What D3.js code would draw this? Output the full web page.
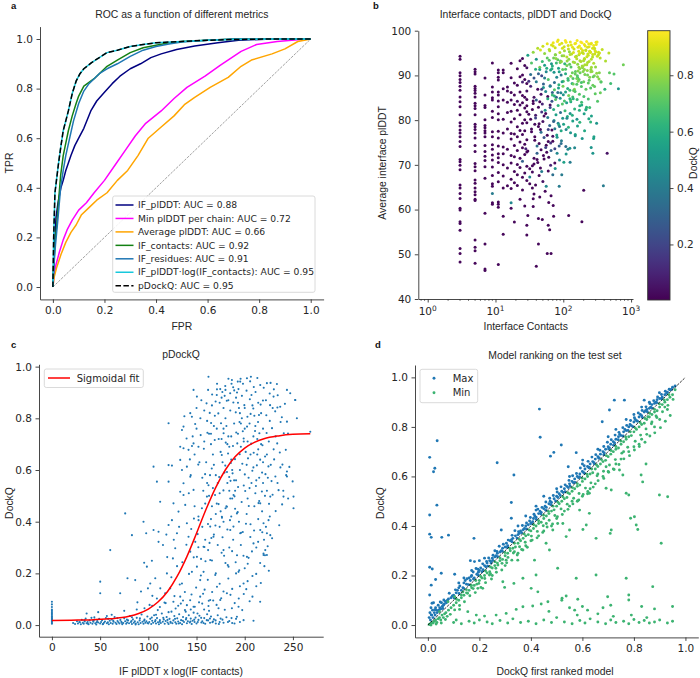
<!DOCTYPE html>
<html><head><meta charset="utf-8">
<script src="https://cdn.jsdelivr.net/npm/d3@7"></script>
<style>body{margin:0;background:#fff}svg{display:block}</style>
</head><body>
<svg id="chart" width="700" height="678"></svg>
<script>
// ---------------- Panel a: ROC curves ----------------
const ifPlddtFpr = [0,0.005,0.012,0.02,0.031,0.04,0.05,0.06,0.07,0.085,0.1,0.12,0.147,0.17,0.2,0.23,0.26,0.3,0.34,0.38,0.42,0.48,0.55,0.64,0.72,0.85,1];
const ifPlddtTpr = [0,0.15,0.28,0.34,0.40,0.43,0.47,0.5,0.53,0.57,0.6,0.64,0.71,0.75,0.785,0.82,0.85,0.88,0.9,0.925,0.94,0.958,0.972,0.985,0.995,1,1];
const minPlddtFpr = [0,0.005,0.012,0.025,0.04,0.055,0.075,0.1,0.13,0.16,0.2,0.24,0.28,0.32,0.36,0.42,0.47,0.52,0.59,0.65,0.73,0.79,0.87,0.95,1];
const minPlddtTpr = [0,0.05,0.09,0.14,0.19,0.23,0.27,0.31,0.34,0.38,0.43,0.49,0.55,0.61,0.66,0.71,0.76,0.805,0.85,0.895,0.95,0.978,0.99,0.997,1];
const avgPlddtFpr = [0,0.005,0.015,0.031,0.05,0.07,0.09,0.11,0.14,0.17,0.21,0.25,0.29,0.33,0.37,0.42,0.47,0.51,0.55,0.61,0.68,0.73,0.77,0.85,0.9,0.95,1];
const avgPlddtTpr = [0,0.04,0.08,0.13,0.18,0.22,0.25,0.29,0.32,0.35,0.38,0.43,0.47,0.53,0.6,0.645,0.69,0.735,0.765,0.805,0.845,0.89,0.915,0.94,0.96,0.99,1];
const ifContactsFpr = [0,0.005,0.01,0.015,0.02,0.03,0.04,0.05,0.06,0.075,0.09,0.1,0.12,0.14,0.16,0.19,0.21,0.25,0.3,0.35,0.4,0.45,0.5,0.6,0.7,1];
const ifContactsTpr = [0,0.12,0.2,0.25,0.32,0.45,0.53,0.58,0.63,0.69,0.74,0.77,0.81,0.825,0.84,0.87,0.89,0.915,0.945,0.965,0.975,0.985,0.99,0.995,1,1];
const ifResiduesFpr = [0,0.005,0.01,0.02,0.03,0.04,0.05,0.065,0.08,0.1,0.12,0.14,0.16,0.18,0.21,0.25,0.3,0.35,0.4,0.45,0.5,0.6,0.7,1];
const ifResiduesTpr = [0,0.1,0.17,0.28,0.4,0.47,0.53,0.6,0.67,0.74,0.79,0.82,0.84,0.86,0.88,0.9,0.93,0.955,0.97,0.98,0.988,0.995,1,1];
const ifPlddtLogFpr = [0,0.003,0.008,0.015,0.022,0.03,0.04,0.05,0.06,0.075,0.09,0.105,0.12,0.15,0.18,0.21,0.25,0.3,0.35,0.4,0.5,0.6,0.7,0.85,1];
const ifPlddtLogTpr = [0,0.2,0.38,0.44,0.5,0.56,0.63,0.67,0.71,0.78,0.83,0.86,0.88,0.905,0.925,0.945,0.955,0.97,0.978,0.985,0.99,0.995,0.998,1,1];
const pDockqFpr = [0,0.003,0.008,0.015,0.022,0.03,0.04,0.05,0.06,0.075,0.09,0.105,0.12,0.15,0.18,0.21,0.25,0.3,0.35,0.4,0.5,0.6,0.7,0.85,1];
const pDockqTpr = [0,0.2,0.38,0.44,0.5,0.56,0.63,0.67,0.71,0.78,0.83,0.86,0.88,0.905,0.925,0.945,0.955,0.97,0.978,0.985,0.99,0.995,0.998,1,1];
const rocLabels = ["IF_plDDT: AUC = 0.88","Min plDDT per chain: AUC = 0.72","Average plDDT: AUC = 0.66","IF_contacts: AUC = 0.92","IF_residues: AUC = 0.91","IF_plDDT\u00b7log(IF_contacts): AUC = 0.95","pDockQ: AUC = 0.95"];
const unitTicks = [0,0.2,0.4,0.6,0.8,1.0];

// ---------------- Panel b: contacts vs plDDT coloured by DockQ ----------------
const bCol3 = [94.3,93.6,90.6,89.9,89.1,88.4,87.6,86.7,85.2,84.1,83,81.2,79.4,78.7,77.8,77.1,76.3,75.2,74.1,71.2,70.7,69.9,68.9,65.5,64.8,63.6,62.5,60.3,59.9,57.3,56.9,55.4,51.3,50.2,48.3];
const bCol5 = [91.4,90.8,90.3,87.6,87.1,86.6,86,85.2,83.8,83.2,82.6,81.2,79.1,78.5,77.9,77.1,76,74.3,73,70.3,69.6,68.7,66.6,65.9,64.8,64,63.3,62.3,62,53.2,51.6,50.8,48];
const bCol7 = [89.4,85.6,83.3,82.8,80.1,78.8,78.3,77.6,77.1,76.3,74.3,73,71.9,71,69.6,67,59.2,52.3,46.7,46.4];
const bCol9 = [92.8,87.4,86.3,85,84.5,82,80.6,77.4,76.3,74.5,73.5,72.2,71.1,69.5,67.6,65.8,65.2,61.5,61.2];
const bCol11 = [91.2,90.6,89.6,89,86.3,85.6,84.3,83,81.4,80.1,77.5,76,74.2,72.5,71.6,70.5,68.3,66.2,61.7,61.2,60.5,47.7];
const bStripeContacts = [3,5,7,9,11];
const bStripeDockq = 0.02;
const bLow = [[13,91.2,0.02],[13,90.6,0.02],[13,87,0.02],[13,84.5,0.02],[13,80.2,0.02],[13,77.1,0.02],[13,74,0.02],[13,72.5,0.02],[13,70,0.02],[13,67.5,0.02],[13,64.8,0.02],[13,58.5,0.02],[13,54.5,0.02],
[15,87.4,0.02],[15,86.5,0.02],[15,84,0.02],[15,81.7,0.02],[15,78,0.02],[15,73.5,0.02],[15,69.3,0.02],[15,65.3,0.02],[9,63.6,0.4],
[17,92.7,0.02],[17,89.5,0.02],[17,86.2,0.02],[17,84.5,0.02],[17,82,0.02],[17,79.6,0.02],[17,77,0.02],[17,75.8,0.02],[17,72.1,0.02],[17,70.4,0.02],[17,66.8,0.02],[17,64.7,0.02],[17,61.5,0.45],[17,60.3,0.02],
[19,88.3,0.02],[19,85.6,0.02],[19,83.5,0.02],[19,80.3,0.02],[19,76.9,0.02],[19,74.3,0.02],[19,71.8,0.02],[19,68.5,0.02],[19,66,0.02],[19,57.2,0.02],
[21,91.5,0.02],[21,87.8,0.02],[21,84.2,0.05],[21,82.2,0.02],[21,78.5,0.02],[21,76.3,0.02],[21,73.2,0.02],[21,70.1,0.02],[21,67.8,0.02],[21,65.4,0.02],
[23,93.3,0.02],[23,89.7,0.02],[23,86.3,0.02],[23,83.4,0.02],[23,81.2,0.02],[23,77.7,0.02],[23,75.1,0.02],[23,71.5,0.02],[23,69.4,0.02],[23,62.3,0.02],
[25,93.8,0.02],[25,90.1,0.02],[25,88.5,0.1],[25,85.5,0.02],[25,83.9,0.02],[25,79.3,0.02],[25,76.8,0.02],[25,73.8,0.02],[25,70.8,0.3],[25,67.2,0.02],[25,64.4,0.02],
[27,92.2,0.02],[27,89.1,0.02],[27,85.1,0.02],[27,82.7,0.02],[27,80.1,0.02],[27,77.6,0.02],[27,74.6,0.02],[27,72.3,0.02],[27,68.2,0.02],[27,60.8,0.02],
[29,91.7,0.05],[29,88.2,0.02],[29,84.6,0.02],[29,81.9,0.02],[29,79.4,0.02],[29,75.6,0.02],[29,72.9,0.02],[29,69.7,0.02],[29,66.5,0.02],[29,56.5,0.02],[29,54.3,0.02]];
const bMid = [[30,94.5,0.55],[33,90.2,0.35],[29,86.5,0.05],[36,84.3,0.02],[31,81.3,0.03],[34,78,0.02],[28,73.6,0.1],[37,70.2,0.02],[32,67.3,0.45],[35,64.8,0.02],[30,58.7,0.02],
[34,92.8,0.7],[31,88.7,0.15],[37,85.1,0.05],[29,83.2,0.02],[33,80.2,0.02],[38,76.3,0.02],[30,73.1,0.02],[35,68.4,0.03],[32,65.8,0.02],[36,62.4,0.02],
[36,95.2,0.8],[39,91.4,0.6],[33,87.6,0.1],[40,84.5,0.3],[35,82.4,0.02],[38,79.1,0.03],[34,77.4,0.02],[41,74.2,0.35],[37,71.5,0.02],[32,69.1,0.02],[39,65.5,0.02],[36,60.7,0.02],
[40,93.6,0.5],[37,89.4,0.25],[42,86.9,0.02],[36,83.7,0.02],[39,81.1,0.08],[43,78.6,0.02],[38,75.5,0.02],[41,72.6,0.3],[35,69.8,0.02],[44,67.6,0.02],[37,63.5,0.02],
[42,96.1,0.85],[45,91.8,0.75],[40,88.6,0.4],[47,85.8,0.05],[43,82.9,0.02],[39,80.5,0.2],[46,77.9,0.03],[44,74.8,0.02],[41,71.2,0.02],[48,68.5,0.4],[43,58,0.02],[40,47.3,0.02],
[46,95.7,0.9],[49,93.1,0.65],[43,90.4,0.3],[51,87.3,0.5],[45,84.1,0.02],[48,81.8,0.15],[44,79.2,0.02],[52,76.1,0.25],[47,73.4,0.02],[42,70.5,0.02],[50,66.3,0.05],[45,62.8,0.02],[43,52.3,0.02],
[50,96.5,0.88],[53,92.3,0.55],[48,89.9,0.2],[55,86.4,0.45],[49,83.6,0.1],[52,80.9,0.02],[47,77.3,0.35],[56,74.4,0.02],[51,72.1,0.02],[46,69.3,0.02],[54,64.1,0.02],
[53,94.9,0.8],[57,91.6,0.6],[51,88.1,0.3],[59,85.3,0.02],[54,82.2,0.5],[50,79.7,0.05],[58,76.6,0.02],[55,73.9,0.2],[52,71.3,0.02],[60,68.6,0.02],[56,65.2,0.45],[49,57.8,0.02],
[58,97.1,0.92],[62,93.4,0.7],[56,90.8,0.45],[64,87.7,0.25],[59,84.8,0.6],[55,81.5,0.02],[63,78.8,0.3],[60,75.2,0.02],[57,72.8,0.02],[65,69.9,0.1],[61,61.6,0.02],
[62,95.8,0.85],[67,92.6,0.5],[60,89.1,0.7],[69,86.2,0.3],[64,83.4,0.05],[59,80.6,0.4],[68,77.8,0.02],[65,74.9,0.15],[61,71.7,0.02],[70,67.8,0.35],[66,63.1,0.02],[58,50.2,0.02],
[67,96.8,0.9],[72,93.9,0.75],[65,91.2,0.55],[74,88.4,0.35],[69,85.6,0.65],[64,82.8,0.2],[73,79.9,0.5],[70,76.4,0.05],[66,73.2,0.3],[75,70.4,0.02],[63,55.5,0.02],[71,60.9,0.02],
[71,97.3,0.93],[77,94.6,0.8],[69,92.1,0.6],[80,89.6,0.45],[74,86.8,0.7],[68,84.2,0.25],[78,81.2,0.55],[75,78.1,0.4],[70,75.3,0.02],[81,72.6,0.45],[76,69.2,0.5],[60,56.5,0.02],
[76,96.2,0.88],[83,93.5,0.72],[73,90.7,0.5],[86,87.9,0.62],[79,85.1,0.3],[72,82.4,0.6],[84,79.3,0.45],[80,76.7,0.55],[75,73.6,0.2],[87,65.2,0.4],[66,50.2,0.02],
[82,97.6,0.95],[89,95.1,0.85],[79,92.8,0.65],[93,90.1,0.4],[85,87.2,0.55],[77,84.6,0.7],[91,81.7,0.35],[86,78.9,0.6],[81,76.2,0.5],[88,71.1,0.45],[72,58.5,0.02],
[88,96.9,0.92],[96,94.4,0.78],[85,91.6,0.55],[100,88.7,0.7],[92,86.1,0.45],[84,83.3,0.62],[98,80.4,0.5],[93,77.6,0.58],[87,74.2,0.3],[95,67.8,0.4],
[95,97.2,0.9],[104,95.5,0.82],[91,93.2,0.7],[108,90.4,0.6],[99,87.6,0.75],[90,84.9,0.5],[106,82.1,0.65],[101,79.1,0.55],[94,75.4,0.4],[110,72.4,0.5],
[103,96.4,0.88],[113,94.1,0.85],[98,91.3,0.72],[118,88.9,0.65],[108,86.3,0.55],[97,83.6,0.7],[115,80.8,0.6],[110,77.9,0.45],[102,70.6,0.55],[120,58.7,0.02]];
const bHigh = [[110,97.4,0.94],[123,95.3,0.8],[105,92.6,0.62],[129,89.8,0.78],[116,87.1,0.6],[104,84.3,0.68],[126,81.5,0.5],[119,78.4,0.62],[109,74.1,0.35],
[118,96.7,0.9],[133,94.8,0.85],[113,92.2,0.75],[139,89.3,0.7],[125,86.7,0.65],[112,83.9,0.55],[136,81.1,0.6],[128,77.2,0.5],[117,73.5,0.45],
[127,97.5,0.93],[144,95.9,0.88],[121,93.6,0.8],[151,90.9,0.72],[135,88.2,0.6],[120,85.5,0.75],[147,82.5,0.62],[138,79.8,0.55],[126,70.6,0.4],
[137,96.3,0.92],[156,94.3,0.84],[130,91.9,0.7],[163,89.5,0.66],[146,86.9,0.78],[129,84.1,0.6],[159,80.2,0.5],[150,76.8,0.58],
[148,97.1,0.95],[169,95.4,0.9],[140,93,0.82],[177,90.6,0.74],[158,88,0.7],[138,85.2,0.66],[173,82.2,0.6],[162,78.7,0.55],[147,73.8,0.45],
[160,97.8,0.94],[183,96,0.92],[151,94.2,0.86],[192,91.7,0.78],[171,89.1,0.72],[149,86.4,0.68],[187,83.4,0.6],[175,79.5,0.62],
[173,96.6,0.93],[198,94.9,0.88],[163,92.5,0.8],[208,90.2,0.76],[185,87.5,0.7],[160,84.6,0.65],[203,81.4,0.55],[190,75.9,0.5],
[188,97.3,0.96],[215,95.6,0.9],[176,93.3,0.84],[226,91.1,0.8],[200,88.6,0.74],[173,85.8,0.7],[220,82.9,0.62],[206,77.6,0.58],
[204,96.9,0.93],[233,94.5,0.88],[190,92.1,0.82],[245,89.6,0.78],[216,86.9,0.72],[186,84,0.66],[238,80.3,0.58],
[221,97.6,0.95],[252,95.2,0.9],[205,93.8,0.86],[265,90.9,0.8],[234,88.3,0.72],[201,85.3,0.68],[258,73.9,0.5],
[240,96.4,0.92],[272,94.7,0.88],[222,92.4,0.84],[287,89.9,0.76],[253,87.2,0.7],[217,82.5,0.65],[188,57.3,0.02],
[260,97.2,0.94],[294,95.5,0.9],[240,93.1,0.85],[311,90.5,0.8],[273,87.8,0.74],[234,84.7,0.68],[200,64.3,0.02],
[281,96.7,0.93],[318,94.3,0.88],[260,91.8,0.82],[336,89.2,0.78],[296,85.9,0.72],[253,79.6,0.62],
[304,97.4,0.92],[342,95,0.89],[281,92.7,0.84],[360,88.6,0.76],[320,84.2,0.7],[273,72.6,0.5],
[228,96.3,0.9],[270,94.1,0.86],[205,91.3,0.8],[289,87.5,0.73],[245,82.8,0.66],
[255,97,0.92],[300,95.3,0.9],[228,92.9,0.84],[320,89.7,0.78],[280,75.9,0.55],
[285,96.1,0.9],[330,94.6,0.87],[255,90.8,0.8],[352,86.1,0.74],[283,76.3,0.55],
[315,97.5,0.93],[250,95.2,0.9],[195,92,0.82],[165,88.7,0.76],
[290,96,0.88],[230,94.8,0.88],[175,91.5,0.8],[142,86.6,0.72],
[245,95.4,0.86],[205,93.6,0.85],[158,89.3,0.76],[128,84.5,0.68],
[215,95.7,0.87],[182,93.1,0.84],[140,88.1,0.74],[390,65.3,0.4],
[190,95.1,0.86],[165,91,0.78],[125,84.8,0.62],
[170,94.6,0.85],[150,90.3,0.74],[444,72.6,0.05],
[480,90.6,0.72],[410,86.9,0.62],[560,90.3,0.7],[650,87,0.5],[768,92.4,0.75]];
const bTop = [[63,95.5,0.85],[71,96.6,0.9],[78,93.8,0.8],[84,97.9,0.93],[90,92.9,0.75],[97,96.1,0.9],[102,94.4,0.82],[107,97.8,0.95],[114,93.2,0.8],[119,95.9,0.88],[124,92.5,0.72],[131,96.8,0.92],[141,95.1,0.9],[152,97.2,0.93],[158,93.7,0.86],[165,96.3,0.92],[174,94.9,0.9],[181,97.5,0.95],[193,95.6,0.9],[199,93.3,0.84],[211,96.6,0.92],[223,94.2,0.88],[237,97.1,0.93],[246,95.4,0.9],[259,93.6,0.85],[270,96.1,0.9],[292,94.8,0.88],[306,96.9,0.93],[330,95.2,0.88],[350,93.9,0.86],[375,95.8,0.87],[58,93.9,0.72],[68,91.5,0.6],[76,94.6,0.78],[87,90.8,0.55],[94,93.1,0.8],[108,91.4,0.7],[117,89.3,0.65],[126,94.7,0.85],[136,90.6,0.74],[147,92.9,0.82],[161,89.9,0.7],[170,91.8,0.8],[185,88.4,0.68],[196,90.9,0.78],[208,92.4,0.84],[228,90.1,0.76],[241,88.9,0.72],[255,91.3,0.8],[276,89.7,0.74],[299,91.9,0.8],[340,90.6,0.78],[360,88.5,0.7],[420,93.2,0.84],[470,95.0,0.86],[500,88.2,0.66],[96,88.6,0.55],[83,86.2,0.35],[74,85.4,0.6],[64,87.6,0.45],[53,89.4,0.4],[48,86.9,0.2],[45,91.3,0.55],[100,85.7,0.5],[140,84.8,0.62],[175,83.2,0.6],[215,82.3,0.58],[260,80.9,0.55],[310,79.3,0.5],[113,80.4,0.45],[88,78.6,0.4],[72,79.7,0.3],[60,77.9,0.2],[150,76.5,0.5],[125,73.7,0.48],[93,74.8,0.35]];
const bYTicks = [40,50,60,70,80,90,100];
const bXTicks = [1,10,100,1000];
const cbTicks = [0.2,0.4,0.6,0.8];

// ---------------- Panel c: pDockQ sigmoid ----------------
const cZeroStripe = [0.005,0.008,0.012,0.015,0.018,0.022,0.025,0.028,0.032,0.035,0.04,0.045,0.05,0.055,0.06,0.07,0.08,0.09];
const cBottomBand = [[22,0.008],[24,0.004],[26,0.015],[27,0.006],[29,0.011],[30,0.003],[31,0.02],[32,0.009],[33,0.005],[34,0.014],[35,0.025],[36,0.007],[37,0.012],[38,0.003],[39,0.018],[40,0.009],[41,0.028],[42,0.005],[43,0.013],[44,0.021],[45,0.007],[46,0.002],[47,0.016],[48,0.01],[49,0.024],[50,0.006],[51,0.012],[52,0.019],[53,0.004],[54,0.009],[55,0.014],[56,0.027],[57,0.007],[58,0.011],[59,0.003],[60,0.017],[61,0.008],[62,0.022],[63,0.005],[64,0.013],[65,0.031],[66,0.009],[67,0.004],[68,0.016],[69,0.011],[70,0.006],[71,0.02],[72,0.013],[73,0.003],[74,0.008],[75,0.026],[76,0.015],[77,0.005],[78,0.01],[79,0.018],[80,0.007],[81,0.035],[82,0.012],[83,0.004],[84,0.022],[85,0.009],[86,0.015],[87,0.006],[88,0.028],[89,0.011],[90,0.003],[91,0.018],[92,0.008],[93,0.041],[94,0.013],[95,0.005],[96,0.021],[97,0.009],[98,0.015],[99,0.033],[100,0.006],[101,0.012],[102,0.024],[103,0.004],[104,0.017],[105,0.009],[106,0.038],[107,0.014],[108,0.006],[109,0.027],[110,0.011],[111,0.003],[112,0.019],[113,0.008],[114,0.045],[115,0.013],[116,0.022],[117,0.005],[118,0.016],[119,0.031],[120,0.01],[121,0.004],[122,0.024],[123,0.013],[124,0.052],[125,0.007],[126,0.018],[127,0.035],[128,0.011],[129,0.005],[130,0.026],[131,0.014],[132,0.042],[133,0.008],[134,0.019],[135,0.003],[136,0.031],[137,0.012],[138,0.058],[139,0.022],[140,0.007],[141,0.015],[142,0.038],[143,0.01],[144,0.025],[145,0.004],[146,0.017],[147,0.048],[148,0.012],[149,0.029],[150,0.006],[152,0.02],[153,0.036],[155,0.01],[156,0.015],[158,0.027],[159,0.005],[161,0.042],[162,0.018],[164,0.009],[165,0.033],[167,0.014],[168,0.022],[170,0.006],[172,0.038],[174,0.012],[175,0.025],[178,0.009],[181,0.03],[184,0.016],[187,0.008],[191,0.024],[195,0.012],
[36,0.045],[48,0.05],[62,0.04],[75,0.055],[88,0.06],[96,0.065],[104,0.075],[112,0.07],[118,0.085],[126,0.09],[131,0.075],[136,0.095],[44,0.03],[57,0.035],[83,0.03],[108,0.04],[121,0.05],[144,0.06],[151,0.045],[163,0.055],
[28.4,0.012],[33.7,0.018],[37.2,0.006],[42.8,0.017],[46.5,0.011],[52.7,0.003],[58.3,0.024],[63.6,0.017],[67.9,0.027],[72.4,0.009],[77.8,0.021],[82.5,0.016],[86.8,0.002],[91.3,0.026],[95.7,0.017],[99.2,0.008],[103.6,0.029],[107.4,0.019],[111.8,0.013],[115.5,0.028],[119.9,0.02],[123.2,0.009],[127.7,0.024],[131.5,0.006],[135.8,0.017],[139.4,0.027],[143.7,0.014],[147.6,0.021],[151.3,0.012],[154.8,0.028],[157.2,0.008],[160.6,0.019],[163.9,0.025],[166.5,0.011],[169.8,0.018],[173.2,0.004],[176.9,0.021],[182.6,0.012],[186.3,0.027],[189.4,0.006]];
const cLowerScatter = [[60.5,0.29],[50.1,0.168],[50.1,0.123],[70.8,0.123],[76,0.432],[78.4,0.181],[83,0.348],[86.4,0.174],[95,0.40],[97.8,0.355],[95.7,0.241],[98.5,0.226],[103.7,0.249],[102,0.161],[107.2,0.181],[105.4,0.368],[110.6,0.361],[110.6,0.322],[112.3,0.477],[108.9,0.103],[119.3,0.2],[121,0.387],[124.5,0.406],[126.1,0.471],[129.7,0.355],[125.5,0.258],[127.9,0.297],[131.3,0.439],[133.1,0.516],[136.5,0.503],[138.3,0.465],[140,0.394],[141.7,0.342],[143.5,0.284],[145.2,0.206],[134.9,0.161],[122.7,0.142],[117.5,0.123],[133.1,0.11],[140,0.077],[146.9,0.071],[153.8,0.11],[153.8,0.174],[150.4,0.226],[157.3,0.206],[150.4,0.264],[157.3,0.303],[148.7,0.322],[152.1,0.406],[155.6,0.452],[160.8,0.497],[164.2,0.381],[167.6,0.342],[164.2,0.252],[169.4,0.194],[171.2,0.148],[164.2,0.097],[174.6,0.097],[181.5,0.123],[178,0.29],[183.2,0.226],[185,0.368],[176.3,0.419],[181.5,0.458],[188.4,0.503],[191.9,0.432],[195.3,0.355],[193.6,0.206],[198.8,0.161],[202.3,0.264],[209.1,0.316],[216.1,0.368],[219.5,0.277],[223,0.271],[226.5,0.348],[219.5,0.394],[216.1,0.471],[226.5,0.497],[193.6,0.071],[191.9,0.032],[198.8,0.019],[209.1,0.017],[186.7,0.065],[172.8,0.065],[243.8,0.594],[243.8,0.575],[250.6,0.497],[250.6,0.452],[240.2,0.497],[224.7,0.406],[223,0.355],[221.3,0.29],[219.5,0.271],[252.4,0.871],[268,0.748],
[112.4,0.142],[116.8,0.087],[119.6,0.263],[123.9,0.185],[127.1,0.112],[129.8,0.228],[132.6,0.157],[135.3,0.243],[137.9,0.128],[139.5,0.311],[142.2,0.198],[144.8,0.118],[147.1,0.262],[149.6,0.145],[151.9,0.301],[154.5,0.192],[156.8,0.121],[159.3,0.247],[161.7,0.175],[163.5,0.318],[128.3,0.064],[133.7,0.083],[138.8,0.052],[143.4,0.096],[148.2,0.071],[152.6,0.088],[157.9,0.06],[162.4,0.074],[167.3,0.095],[99.6,0.142],[104.2,0.113],[88.7,0.088],[92.4,0.13],[115.2,0.31],[118.7,0.35],[126.4,0.33],[131.9,0.38],[101.3,0.078],[109.8,0.058]];
const cCloud = [[162.4,0.961],[171.2,0.912],[179.8,0.925],[186.7,0.948],[195.3,0.942],[202.3,0.955],[206.4,0.961],[216.1,0.929],[223,0.936],[233.4,0.933],[243.8,0.91],[247.2,0.897],[252.4,0.871],[254.1,0.8],[243.8,0.787],[236.8,0.845],[229.9,0.884],[146.9,0.91],[150.4,0.884],[121,0.781],[134.9,0.755],[136.5,0.768],[143.5,0.82],[145.2,0.806],[146.9,0.703],[141.7,0.678],[140,0.613],[136.5,0.684],[105.4,0.613],[121,0.619],[124.5,0.617],[108.9,0.555],[121,0.555],[133.1,0.69],[133.1,0.639],[134.9,0.6],[136.5,0.549],[143.5,0.574],[146.9,0.523],
[155,0.87],[158,0.83],[161,0.79],[163,0.74],[165,0.70],[167,0.66],[168,0.62],[170,0.58],[172,0.55],[174,0.51],[176,0.88],[178,0.84],[180,0.80],[181,0.77],[183,0.73],[184,0.69],[186,0.64],[187,0.60],[189,0.56],[190,0.52],[192,0.90],[193,0.86],[195,0.82],[196,0.78],[198,0.75],[199,0.71],[201,0.67],[202,0.62],[204,0.57],[205,0.53],[207,0.89],[208,0.85],[210,0.81],[211,0.77],[213,0.72],[214,0.68],[216,0.64],[218,0.59],[219,0.55],[221,0.50],[150,0.76],[152,0.69],[153,0.63],[156,0.57],[157,0.52],[159,0.47],[146,0.73],[148,0.66],[144,0.58],[142,0.51],[162,0.91],[166,0.85],[169,0.81],[171,0.76],[173,0.72],[175,0.67],[177,0.63],[179,0.59],[182,0.55],[185,0.49],[188,0.92],[191,0.88],[194,0.84],[197,0.80],[200,0.76],[203,0.71],[206,0.66],[209,0.61],[212,0.56],[215,0.48],[160,0.63],[164,0.58],[167,0.53],[171,0.47],[175,0.44],[178,0.40],[182,0.37],[186,0.42],[190,0.45],[194,0.40],[198,0.36],[202,0.43],[206,0.39],[210,0.46],[214,0.41],[218,0.44],[222,0.38],[226,0.42],[165,0.41],[168,0.35],[172,0.31],[176,0.28],[180,0.24],[184,0.30],[188,0.33],[192,0.27],[196,0.31],[200,0.22],[204,0.26],[208,0.19],[212,0.30],[216,0.24],[220,0.33],[224,0.57],[227,0.62],[230,0.68],[232,0.73],[226,0.79],[229,0.84],[222,0.87],[234,0.55],[237,0.61],[240,0.52],[243,0.58],[245,0.49],[223,0.66],[225,0.71],[219,0.76],[217,0.82],[214,0.86],[185,0.83],[183,0.87],[180,0.91],[174,0.86],[171,0.89],[168,0.77],[165,0.74],[158,0.71],[154,0.80],[150,0.84],[161,0.55],[163,0.50],[166,0.46],[170,0.43],[174,0.38],[177,0.34],[181,0.46],[184,0.52],[187,0.49],[191,0.56],[195,0.60],[199,0.54],[203,0.49],[207,0.55],[211,0.51],[215,0.57],[219,0.63],[223,0.52],[196,0.69],[200,0.84],[205,0.78],[209,0.73],[213,0.66],[217,0.70],[193,0.74],[189,0.78],[186,0.73],[182,0.70],[178,0.76],[176,0.72],[148,0.46],[152,0.42],[156,0.38],[159,0.33],[162,0.29],[166,0.25],[170,0.20],[174,0.16],[178,0.13],[183,0.18],[187,0.14],[191,0.20],[195,0.15],[199,0.12],[203,0.17],[208,0.11],[212,0.15],[216,0.09],[221,0.27],[225,0.21]];
const cCloud2 = [[171.3,0.934],[176.8,0.902],[181.4,0.868],[184.9,0.897],[188.2,0.861],[190.7,0.823],[193.5,0.913],[197.1,0.887],[199.6,0.851],[202.8,0.806],[205.3,0.874],[208.9,0.838],[211.2,0.902],[213.8,0.786],[216.5,0.853],[219.7,0.918],[222.4,0.812],[225.9,0.896],[228.3,0.762],[231.6,0.827],[234.2,0.889],[238.5,0.804],[241.7,0.856],[244.9,0.741],[172.6,0.819],[175.4,0.781],[178.1,0.742],[180.3,0.706],[182.7,0.664],[185.6,0.627],[187.4,0.587],[189.9,0.642],[192.3,0.703],[194.8,0.661],[197.5,0.624],[200.1,0.583],[203.4,0.645],[206.7,0.702],[209.3,0.667],[212.6,0.618],[215.2,0.742],[218.4,0.696],[221.1,0.652],[224.6,0.614],[227.8,0.557],[230.5,0.641],[233.7,0.703],[236.4,0.668],[239.1,0.621],[160.4,0.858],[163.7,0.821],[166.2,0.892],[168.9,0.716],[154.3,0.735],[157.6,0.682],[151.8,0.621],[148.6,0.778],[145.3,0.693],[143.1,0.641],[139.7,0.722],[137.4,0.808],[158.9,0.584],[162.4,0.541],[165.8,0.606],[169.2,0.503],[173.5,0.573],[177.9,0.521],[181.6,0.592],[185.3,0.558],[189.4,0.498],[193.1,0.534],[196.8,0.476],[200.5,0.519],[204.2,0.461],[207.9,0.597],[211.6,0.538],[214.3,0.472],[217.8,0.517],[221.5,0.584],[225.2,0.469],[228.9,0.504],[232.1,0.441],[235.8,0.386],[198.2,0.934],[201.9,0.907],[205.6,0.943],[209.4,0.921],[213.1,0.956],[186.3,0.934],[183.1,0.953],[179.2,0.887],[174.6,0.913],[169.8,0.865],[165.1,0.782],[161.3,0.744],[176.2,0.658],[179.8,0.617],[183.9,0.573],[187.8,0.693],[191.2,0.745],[194.6,0.786],[198.9,0.722],[202.4,0.768],[206.1,0.817],[210.7,0.751],[214.8,0.813],[218.9,0.869],[222.7,0.743],[226.3,0.851],[172.9,0.468],[176.4,0.415],[180.1,0.452],[184.7,0.406],[188.3,0.381],[192.7,0.437],[196.2,0.357],[201.3,0.392],[205.8,0.341],[209.7,0.366],[213.9,0.322],[218.2,0.359],[223.8,0.305],[228.4,0.336],[169.6,0.385],[165.4,0.337],[161.9,0.391],[158.2,0.302],[154.7,0.256],[151.2,0.352],[147.3,0.412],[144.5,0.372],[178.6,0.268],[182.4,0.232],[186.9,0.286],[190.6,0.243],[194.3,0.212],[198.7,0.268],[203.1,0.237],[207.5,0.285],[211.9,0.198],[216.7,0.163],[220.4,0.228],[185.2,0.117],[189.6,0.085],[193.8,0.103],[197.4,0.058],[201.6,0.139],[205.1,0.092],[170.8,0.078],[175.6,0.104],[179.3,0.059],[166.2,0.128],[162.7,0.094],[158.4,0.137],[155.9,0.083],[231.8,0.575],[235.1,0.522],[238.8,0.467],[242.6,0.678],[246.3,0.612],[249.7,0.556],[240.5,0.742],[237.2,0.786],[233.9,0.842],[230.2,0.912],[226.8,0.937],[189.1,0.908],[192.8,0.942],[195.7,0.953]];
const sigX = [0,20,40,60,80,90,100,110,120,130,140,150,160,170,180,190,200,210,220,235,250,268];
const sigY = [0.018,0.019,0.020,0.024,0.034,0.045,0.062,0.089,0.130,0.189,0.265,0.355,0.449,0.533,0.601,0.651,0.685,0.707,0.721,0.732,0.738,0.740];
const cXTicks = [0,50,100,150,200,250];

// ---------------- Panel d: model ranking ----------------
const dMaxBand = [[0.005,0.03],[0.008,0.05],[0.01,0.02],[0.012,0.07],[0.015,0.04],[0.018,0.06],[0.02,0.03],[0.022,0.09],[0.025,0.05],[0.028,0.04],[0.03,0.07],[0.033,0.06],[0.036,0.05],[0.04,0.08],[0.043,0.06],[0.046,0.07],[0.05,0.065],[0.053,0.09],[0.056,0.075],[0.06,0.08],[0.064,0.085],[0.068,0.095],[0.072,0.09],[0.076,0.1],
[0.08,0.105],[0.09,0.11],[0.1,0.12],[0.11,0.13],[0.115,0.14],[0.12,0.15],[0.13,0.14],[0.14,0.17],[0.145,0.18],[0.15,0.165],[0.16,0.19],[0.165,0.18],[0.17,0.2],[0.18,0.19],[0.19,0.205],[0.2,0.22],[0.205,0.23],[0.21,0.215],[0.22,0.24],[0.225,0.235],[0.23,0.25],[0.24,0.26],[0.245,0.25],[0.25,0.27],[0.26,0.275],[0.265,0.28],[0.27,0.29],[0.28,0.295],[0.285,0.3],[0.29,0.31],[0.3,0.315],[0.305,0.33],[0.31,0.32],[0.32,0.34],[0.325,0.345],[0.33,0.35],[0.34,0.36],[0.35,0.365],[0.355,0.37],[0.36,0.38],[0.37,0.385],[0.375,0.39],[0.38,0.4],[0.39,0.405],[0.395,0.42],[0.4,0.41],[0.41,0.43],[0.415,0.44],[0.42,0.435],[0.43,0.45],[0.435,0.46],[0.44,0.455],[0.45,0.47],[0.455,0.48],[0.46,0.475],[0.47,0.49],[0.475,0.5],[0.48,0.495],[0.49,0.51],[0.5,0.52],[0.505,0.515],[0.51,0.53],[0.52,0.54],[0.525,0.535],[0.53,0.55],[0.54,0.56],[0.545,0.555],[0.55,0.57],[0.56,0.58],[0.565,0.575],[0.57,0.59],[0.58,0.6],[0.585,0.595],[0.59,0.61],[0.6,0.62],[0.605,0.615],[0.61,0.63],[0.62,0.64],[0.625,0.635],[0.63,0.65],[0.64,0.66],[0.645,0.655],[0.65,0.67],[0.66,0.68],[0.665,0.675],[0.67,0.69],[0.68,0.7],[0.685,0.695],[0.69,0.71],[0.7,0.72],[0.705,0.715],[0.71,0.73],[0.72,0.74],[0.725,0.735],[0.73,0.75],[0.74,0.76],[0.745,0.77],[0.75,0.765],[0.76,0.78],[0.765,0.79],[0.77,0.785],[0.78,0.8],[0.785,0.81],[0.79,0.805],[0.8,0.82],[0.805,0.83],[0.81,0.825],[0.82,0.84],[0.825,0.85],[0.83,0.845],[0.84,0.86],[0.845,0.865],[0.85,0.87],[0.86,0.875],[0.865,0.88],[0.87,0.89],[0.88,0.895],[0.885,0.9],[0.89,0.91],[0.9,0.915],[0.91,0.92],[0.92,0.93],[0.93,0.94],[0.94,0.95],[0.95,0.96],[0.96,0.965],
[0.2,0.26],[0.22,0.27],[0.26,0.3],[0.35,0.4],[0.38,0.44],[0.42,0.48],[0.45,0.52],[0.5,0.55],[0.55,0.6],[0.6,0.65],[0.66,0.71],[0.7,0.76],[0.73,0.79],[0.77,0.83],[0.8,0.85],[0.83,0.88],[0.86,0.9],[0.12,0.17],[0.14,0.19],[0.17,0.22],
[0.013,0.041],[0.027,0.062],[0.041,0.058],[0.048,0.093],[0.058,0.067],[0.062,0.101],[0.083,0.128],[0.095,0.117],[0.107,0.142],[0.124,0.158],[0.136,0.151],[0.152,0.187],[0.168,0.196],[0.176,0.214],[0.187,0.228],[0.196,0.213],[0.213,0.247],[0.228,0.257],[0.236,0.271],[0.253,0.282],[0.268,0.297],[0.277,0.318],[0.293,0.326],[0.312,0.343],[0.327,0.362],[0.338,0.381],[0.352,0.377],[0.367,0.402],[0.383,0.412],[0.398,0.434],[0.412,0.447],[0.427,0.468],[0.443,0.475],[0.458,0.497],[0.473,0.512],[0.487,0.523],[0.502,0.537],[0.517,0.558],[0.533,0.566],[0.548,0.584],[0.562,0.603],[0.577,0.612],[0.592,0.634],[0.607,0.643],[0.622,0.661],[0.637,0.678],[0.652,0.688],[0.668,0.706],[0.683,0.721],[0.697,0.738],[0.712,0.748],[0.727,0.767],[0.742,0.778],[0.757,0.797],[0.772,0.806],[0.787,0.826],[0.802,0.837],[0.817,0.856],[0.832,0.866],[0.847,0.881],[0.862,0.894],[0.877,0.906],[0.892,0.921],[0.907,0.931],[0.922,0.944],[0.937,0.952],
[0.102,0.109],[0.121,0.127],[0.139,0.148],[0.158,0.163],[0.177,0.186],[0.196,0.201],[0.214,0.223],[0.233,0.238],[0.252,0.261],[0.271,0.276],[0.289,0.298],[0.308,0.313],[0.327,0.336],[0.346,0.351],[0.364,0.373],[0.383,0.388],[0.402,0.411],[0.421,0.426],[0.439,0.448],[0.458,0.463],[0.477,0.486],[0.496,0.501],[0.514,0.523],[0.533,0.538],[0.552,0.561],[0.571,0.576],[0.589,0.598],[0.608,0.613],[0.627,0.636],[0.646,0.651],[0.664,0.673],[0.683,0.688],[0.702,0.711],[0.721,0.726],[0.739,0.748],[0.758,0.763],[0.777,0.786],[0.796,0.801],[0.814,0.823],[0.833,0.838],[0.852,0.861],[0.871,0.876],[0.889,0.898],[0.908,0.913],[0.927,0.936],[0.946,0.951]];
const dMaxOutliers = [[0.007,0.677],[0.036,0.744],[0.022,0.619],[0.027,0.633],[0.035,0.484],[0.007,0.444],[0.007,0.367],[0.013,0.354],[0.054,0.354],[0.08,0.363],[0.007,0.233],[0.017,0.226],[0.03,0.184],[0.013,0.161],[0.052,0.209],[0.104,0.205],[0.007,0.121],[0.016,0.088],[0.179,0.35],[0.165,0.26],[0.181,0.256],[0.194,0.225],[0.269,0.655],[0.334,0.606],[0.324,0.495],[0.433,0.872],[0.436,0.758],[0.489,0.697],[0.476,0.682],[0.518,0.727],[0.576,0.696],[0.677,0.821],[0.705,0.868],[0.724,0.908],[0.763,0.908],[0.84,0.908],[0.899,0.938],[0.407,0.417],[0.42,0.464],[0.545,0.639],[0.601,0.666],[0.246,0.256],[0.285,0.384],[0.324,0.431]];
const dMinBand = [[0.005,0.002],[0.01,0.005],[0.015,0.01],[0.02,0.008],[0.025,0.015],[0.03,0.02],[0.035,0.01],[0.04,0.025],[0.045,0.03],[0.05,0.02],[0.055,0.04],[0.06,0.03],[0.065,0.045],[0.07,0.05],[0.075,0.035],[0.08,0.06],[0.09,0.07],[0.1,0.08],[0.11,0.09],[0.12,0.1],[0.13,0.11],[0.14,0.12],[0.15,0.13],[0.16,0.14],[0.17,0.15],[0.18,0.16],[0.19,0.165],[0.2,0.18],[0.21,0.19],[0.22,0.2],[0.23,0.21],[0.24,0.215],[0.25,0.23],[0.26,0.24],[0.27,0.25],[0.28,0.26],[0.29,0.265],[0.3,0.28],[0.31,0.29],[0.32,0.3],[0.33,0.31],[0.34,0.315],[0.35,0.33],[0.36,0.34],[0.37,0.35],[0.38,0.36],[0.39,0.365],[0.4,0.38],[0.41,0.39],[0.42,0.4],[0.43,0.41],[0.44,0.415],[0.45,0.43],[0.46,0.44],[0.47,0.45],[0.48,0.46],[0.49,0.465],[0.5,0.48],[0.51,0.49],[0.52,0.5],[0.53,0.51],[0.54,0.515],[0.55,0.53],[0.56,0.54],[0.57,0.55],[0.58,0.56],[0.59,0.565],[0.6,0.58],[0.61,0.59],[0.62,0.6],[0.63,0.61],[0.64,0.615],[0.65,0.63],[0.66,0.64],[0.67,0.65],[0.68,0.66],[0.69,0.665],[0.7,0.68],[0.71,0.69],[0.72,0.7],[0.73,0.71],[0.74,0.715],[0.75,0.73],[0.76,0.74],[0.77,0.75],[0.78,0.76],[0.79,0.765],[0.8,0.78],[0.81,0.79],[0.82,0.8],[0.83,0.81],[0.84,0.815],[0.85,0.83],[0.86,0.84],[0.87,0.85],[0.88,0.86],[0.89,0.865],[0.9,0.88],[0.91,0.89],[0.92,0.9],[0.93,0.91],[0.94,0.92],[0.95,0.93],[0.96,0.95],
[0.25,0.2],[0.3,0.24],[0.35,0.29],[0.4,0.34],[0.45,0.38],[0.5,0.43],[0.55,0.48],[0.6,0.52],[0.65,0.57],[0.7,0.62],[0.75,0.67],[0.8,0.72],[0.85,0.77],[0.9,0.83],[0.38,0.32],[0.43,0.36],[0.48,0.4],[0.53,0.46],[0.58,0.5],[0.63,0.55],[0.68,0.6],[0.73,0.65],[0.78,0.7],[0.83,0.75],[0.88,0.8],[0.93,0.87],[0.62,0.53],[0.72,0.63],[0.82,0.73],[0.87,0.82],[0.92,0.88],[0.76,0.7],[0.66,0.61],[0.56,0.5],[0.46,0.41],
[0.012,0.0],[0.032,0.004],[0.052,0.008],[0.068,0.022],[0.087,0.043],[0.104,0.061],[0.123,0.079],[0.142,0.094],[0.163,0.118],[0.184,0.131],[0.206,0.152],[0.224,0.171],[0.247,0.186],[0.266,0.213],[0.287,0.222],[0.306,0.251],[0.326,0.262],[0.347,0.283],[0.364,0.305],[0.386,0.314],[0.405,0.343],[0.424,0.352],[0.446,0.374],[0.463,0.396],[0.484,0.408],[0.503,0.437],[0.522,0.446],[0.544,0.467],[0.563,0.489],[0.582,0.502],[0.603,0.527],[0.621,0.539],[0.642,0.557],[0.661,0.583],[0.683,0.592],[0.702,0.617],[0.723,0.628],[0.742,0.648],[0.761,0.671],[0.783,0.684],[0.802,0.707],[0.821,0.721],[0.843,0.738],[0.862,0.763],[0.881,0.776],[0.903,0.797],[0.922,0.823],[0.941,0.846],[0.805,0.742],[0.826,0.767],[0.847,0.792],[0.868,0.813],[0.889,0.838],[0.911,0.861],[0.932,0.887],[0.952,0.911],[0.776,0.718],[0.753,0.694],[0.728,0.668],[0.705,0.646],[0.682,0.621],[0.657,0.603],[0.633,0.574],[0.612,0.553],[0.587,0.531],[0.566,0.512],[0.541,0.488],[0.517,0.469],[0.493,0.442],[0.471,0.423],[0.448,0.401],[0.425,0.378],[0.402,0.359],[0.378,0.334],[0.356,0.316],[0.332,0.291],[0.311,0.273],[0.288,0.249],[0.264,0.229],[0.243,0.207],[0.221,0.188],[0.198,0.168],[0.176,0.147],[0.154,0.128],
[0.111,0.104],[0.13,0.121],[0.149,0.143],[0.168,0.159],[0.186,0.18],[0.205,0.196],[0.224,0.218],[0.243,0.234],[0.261,0.255],[0.28,0.271],[0.299,0.293],[0.318,0.309],[0.336,0.33],[0.355,0.346],[0.374,0.368],[0.393,0.384],[0.411,0.405],[0.43,0.421],[0.449,0.443],[0.468,0.459],[0.486,0.48],[0.505,0.496],[0.524,0.518],[0.543,0.534],[0.561,0.555],[0.58,0.571],[0.599,0.593],[0.618,0.609],[0.636,0.63],[0.655,0.646],[0.674,0.668],[0.693,0.684],[0.711,0.705],[0.73,0.721],[0.749,0.743],[0.768,0.759],[0.786,0.78],[0.805,0.796],[0.824,0.818],[0.843,0.834],[0.861,0.855],[0.88,0.871],[0.899,0.893],[0.918,0.909],[0.936,0.93]];
const dMinScatter = [[0.931,0.518],[0.899,0.525],[0.906,0.33],[0.809,0.404],[0.787,0.431],[0.802,0.437],[0.815,0.386],[0.847,0.65],[0.828,0.606],[0.77,0.532],[0.78,0.525],[0.692,0.552],[0.712,0.545],[0.712,0.384],[0.708,0.37],[0.653,0.35],[0.615,0.404],[0.602,0.386],[0.537,0.357],[0.55,0.384],[0.472,0.303],[0.504,0.229],[0.576,0.189],[0.653,0.202],[0.77,0.189],[0.873,0.155],[0.698,0.114],[0.78,0.121],[0.78,0.101],[0.582,0.104],[0.537,0.117],[0.521,0.108],[0.466,0.094],[0.44,0.085],[0.407,0.077],[0.369,0.074],[0.343,0.063],[0.304,0.047],[0.265,0.04],[0.22,0.036],[0.188,0.04],[0.155,0.054],[0.123,0.063],[0.291,0.175],[0.298,0.152],[0.334,0.168],[0.369,0.189],[0.401,0.148],[0.427,0.134],[0.42,0.202],[0.414,0.262],[0.459,0.33],[0.485,0.384],[0.504,0.41],[0.524,0.41],[0.369,0.303],[0.336,0.296],[0.349,0.262],[0.304,0.262],[0.272,0.242],[0.239,0.202],[0.213,0.148],[0.194,0.148],[0.168,0.161],[0.136,0.134],[0.104,0.114],[0.078,0.094],[0.045,0.054],[0.627,0.451],[0.589,0.464],[0.586,0.505],[0.627,0.532],[0.692,0.639],[0.744,0.626],[0.757,0.606],[0.834,0.578],[0.854,0.841],[0.886,0.844]];
const dMinBottom = [[0.1,0.01],[0.11,0.02],[0.13,0.005],[0.16,0.015],[0.18,0.008],[0.2,0.02],[0.23,0.012],[0.25,0.005],[0.28,0.018],[0.31,0.008],[0.33,0.025],[0.36,0.01],[0.39,0.015],[0.42,0.005],[0.45,0.02],[0.48,0.01],[0.5,0.03],[0.53,0.012],[0.56,0.005],[0.59,0.018],[0.61,0.008],[0.63,0.025],[0.66,0.012],[0.69,0.005],[0.71,0.02],[0.73,0.01],[0.76,0.015],[0.78,0.005],[0.8,0.022],[0.82,0.01],[0.84,0.018],[0.86,0.008],[0.88,0.012],[0.9,0.02],[0.93,0.008],[0.95,0.015],[0.58,0.04],[0.66,0.045],[0.72,0.035],[0.79,0.04],[0.85,0.03],[0.62,0.06],[0.88,0.065],[0.95,0.075],[0.83,0.075],[0.71,0.08],[0.55,0.07],[0.47,0.055],[0.52,0.1],[0.57,0.06],[0.6,0.075],[0.68,0.07]];

// ================= drawing =================
const svg = d3.select('#chart');
const TICKF = 'DejaVu Sans, sans-serif';
const LABF = 'Liberation Sans, Arial, sans-serif';
const INK = '#262626';
const SPINE = '#333';

function styleAxis(g) {
  g.attr('font-family', TICKF).attr('font-size', 10.5);
  g.select('.domain').attr('stroke', SPINE).attr('stroke-width', 0.9);
  g.selectAll('.tick line').attr('stroke', SPINE).attr('stroke-width', 0.9);
  g.selectAll('.tick text').attr('fill', INK);
  return g;
}
function title(x, y, t) {
  svg.append('text').attr('x', x).attr('y', y).attr('text-anchor', 'middle')
    .attr('font-family', LABF).attr('font-size', 10.4).attr('fill', INK).text(t);
}
function ylabel(x, y, t) {
  svg.append('text').attr('transform', `translate(${x},${y}) rotate(-90)`).attr('text-anchor', 'middle')
    .attr('dy', '0.35em').attr('font-family', LABF).attr('font-size', 10.4).attr('fill', INK).text(t);
}
function panelLetter(x, y, t) {
  svg.append('text').attr('x', x).attr('y', y).attr('font-family', LABF).attr('font-weight', 'bold')
    .attr('font-size', 9.5).attr('fill', '#111').text(t);
}
const fmt1 = d3.format('.1f');

// ---------- Panel a ----------
{
  const x = d3.scaleLinear([-0.05, 1.05], [40, 323.6]);
  const y = d3.scaleLinear([-0.05, 1.05], [299.4, 26.6]);
  styleAxis(svg.append('g').attr('transform', 'translate(0,299.4)')
    .call(d3.axisBottom(x).tickValues(unitTicks).tickFormat(fmt1).tickSize(3.5).tickSizeOuter(0).tickPadding(3.5)));
  styleAxis(svg.append('g').attr('transform', 'translate(40,0)')
    .call(d3.axisLeft(y).tickValues(unitTicks).tickFormat(fmt1).tickSize(3.5).tickSizeOuter(0).tickPadding(3.5)));
  svg.append('line').attr('x1', x(0)).attr('y1', y(0)).attr('x2', x(1)).attr('y2', y(1))
    .attr('stroke', '#888').attr('stroke-width', 0.8).attr('stroke-dasharray', '2.6,1.2');
  const series = [
    {fpr: ifPlddtFpr, tpr: ifPlddtTpr, color: '#000080', dash: null},
    {fpr: minPlddtFpr, tpr: minPlddtTpr, color: '#ff00ff', dash: null},
    {fpr: avgPlddtFpr, tpr: avgPlddtTpr, color: '#ffa500', dash: null},
    {fpr: ifContactsFpr, tpr: ifContactsTpr, color: '#138013', dash: null},
    {fpr: ifResiduesFpr, tpr: ifResiduesTpr, color: '#1f77b4', dash: null},
    {fpr: ifPlddtLogFpr, tpr: ifPlddtLogTpr, color: '#17c8dc', dash: null},
    {fpr: pDockqFpr, tpr: pDockqTpr, color: '#000000', dash: '5.5,2.4'}
  ];
  const line = d3.line().x(d => x(d[0])).y(d => y(d[1]));
  series.forEach(s => {
    const pts = s.fpr.map((f, j) => [f, s.tpr[j]]);
    svg.append('path').attr('d', line(pts))
      .attr('fill', 'none').attr('stroke', s.color).attr('stroke-width', 1.5)
      .attr('stroke-dasharray', s.dash).attr('stroke-linejoin', 'round');
  });
  const lg = svg.append('g');
  lg.append('rect').attr('x', 112.7).attr('y', 196).attr('width', 202.3).attr('height', 96.3).attr('rx', 2)
    .attr('fill', 'rgba(255,255,255,0.85)').attr('stroke', '#d0d0d0').attr('stroke-width', 0.8);
  series.forEach((s, i) => {
    const yy = 205 + i * 13.45;
    lg.append('line').attr('x1', 115.5).attr('x2', 133.5).attr('y1', yy).attr('y2', yy)
      .attr('stroke', s.color).attr('stroke-width', 1.5).attr('stroke-dasharray', s.dash);
    lg.append('text').attr('x', 138).attr('y', yy).attr('dy', '0.35em').attr('font-family', TICKF)
      .attr('font-size', 9.2).attr('fill', INK).text(rocLabels[i]);
  });
  title(181.8, 18, 'ROC as a function of different metrics');
  svg.append('text').attr('x', 181.8).attr('y', 330).attr('text-anchor', 'middle').attr('font-family', LABF)
    .attr('font-size', 10.4).attr('fill', INK).text('FPR');
  ylabel(9, 163, 'TPR');
  panelLetter(11, 9, 'a');
}

// ---------- Panel b ----------
{
  const x = d3.scaleLog([0.727, 1067], [418.3, 633]);
  const y = d3.scaleLinear([40, 100], [299, 30.7]);
  const cDom = [0.003, 0.958];
  const col = v => d3.interpolateViridis((v - cDom[0]) / (cDom[1] - cDom[0]));
  const gx = svg.append('g').attr('transform', 'translate(0,299)')
    .call(d3.axisBottom(x).tickValues(bXTicks).tickFormat('').tickSize(3.5).tickSizeOuter(0));
  styleAxis(gx);
  const minors = [];
  [0.1, 1, 10, 100].forEach(p => { for (let k = 2; k <= 9; k++) { const v = k * p; if (v > 0.727 && v < 1067) minors.push(v); } });
  gx.selectAll('.minor').data(minors).enter().append('line').attr('class', 'minor')
    .attr('x1', d => x(d)).attr('x2', d => x(d)).attr('y1', 0).attr('y2', 2)
    .attr('stroke', SPINE).attr('stroke-width', 0.6);
  bXTicks.forEach(v => {
    const t = svg.append('text').attr('x', x(v)).attr('y', 315).attr('text-anchor', 'middle')
      .attr('font-family', TICKF).attr('font-size', 10.5).attr('fill', INK);
    t.append('tspan').text('10');
    t.append('tspan').attr('dy', -4.5).attr('font-size', 7.4).text(String(Math.round(Math.log10(v))));
  });
  styleAxis(svg.append('g').attr('transform', 'translate(418.3,0)')
    .call(d3.axisLeft(y).tickValues(bYTicks).tickFormat(d3.format('d')).tickSize(3.5).tickSizeOuter(0).tickPadding(3.5)));
  const pts = [];
  [bCol3, bCol5, bCol7, bCol9, bCol11].forEach((arr, i) => arr.forEach(p => pts.push([bStripeContacts[i], p, bStripeDockq])));
  bLow.forEach(d => pts.push(d));
  bMid.forEach(d => pts.push(d));
  bHigh.forEach(d => pts.push(d));
  bTop.forEach(d => pts.push(d));
  svg.append('g').selectAll('circle').data(pts).enter().append('circle')
    .attr('cx', d => x(d[0])).attr('cy', d => y(d[1])).attr('r', 1.5).attr('fill', d => col(d[2]));
  const defs = svg.append('defs');
  const grad = defs.append('linearGradient').attr('id', 'vir').attr('x1', 0).attr('y1', 1).attr('x2', 0).attr('y2', 0);
  d3.range(0, 1.0001, 0.05).forEach(t => grad.append('stop').attr('offset', t).attr('stop-color', d3.interpolateViridis(t)));
  svg.append('rect').attr('x', 647.7).attr('y', 30.7).attr('width', 22.3).attr('height', 269.3)
    .attr('fill', 'url(#vir)').attr('stroke', SPINE).attr('stroke-width', 0.9);
  const cs = d3.scaleLinear(cDom, [300, 30.7]);
  const gc = svg.append('g').attr('transform', 'translate(670,0)')
    .call(d3.axisRight(cs).tickValues(cbTicks).tickFormat(fmt1).tickSize(3.5).tickPadding(3.5));
  styleAxis(gc); gc.select('.domain').remove();
  svg.append('text').attr('transform', 'translate(693,163) rotate(-90)').attr('text-anchor', 'middle')
    .attr('dy', '0.35em').attr('font-family', LABF).attr('font-size', 10.4).attr('fill', INK).text('DockQ');
  title(525.7, 18, 'Interface contacts, plDDT and DockQ');
  svg.append('text').attr('x', 525.7).attr('y', 330).attr('text-anchor', 'middle').attr('font-family', LABF)
    .attr('font-size', 10.4).attr('fill', INK).text('Interface Contacts');
  ylabel(382, 163, 'Average interface plDDT');
  panelLetter(373, 9, 'b');
}

// ---------- Panel c ----------
{
  const x = d3.scaleLinear([-13.4, 281.4], [39, 323.2]);
  const y = d3.scaleLinear([-0.045, 1.009], [636.7, 364.3]);
  styleAxis(svg.append('g').attr('transform', 'translate(0,636.7)')
    .call(d3.axisBottom(x).tickValues(cXTicks).tickFormat(d3.format('d')).tickSize(3.5).tickSizeOuter(0).tickPadding(3.5)));
  styleAxis(svg.append('g').attr('transform', 'translate(39,0)')
    .call(d3.axisLeft(y).tickValues(unitTicks).tickFormat(fmt1).tickSize(3.5).tickSizeOuter(0).tickPadding(3.5)));
  const pts = [];
  cZeroStripe.forEach(v => pts.push([0, v]));
  cBottomBand.forEach(d => pts.push(d));
  cLowerScatter.forEach(d => pts.push(d));
  cCloud.forEach(d => pts.push(d));
  cCloud2.forEach(d => pts.push(d));
  svg.append('g').selectAll('circle').data(pts).enter().append('circle')
    .attr('cx', d => x(d[0])).attr('cy', d => y(d[1])).attr('r', 1.05).attr('fill', '#1f77b4');
  const sig = sigX.map((v, i) => [v, sigY[i]]);
  svg.append('path').attr('d', d3.line().x(d => x(d[0])).y(d => y(d[1])).curve(d3.curveMonotoneX)(sig))
    .attr('fill', 'none').attr('stroke', '#ff0000').attr('stroke-width', 1.5);
  svg.append('rect').attr('x', 44.3).attr('y', 369).attr('width', 99).attr('height', 18.5).attr('rx', 2)
    .attr('fill', 'rgba(255,255,255,0.85)').attr('stroke', '#d0d0d0').attr('stroke-width', 0.8);
  svg.append('line').attr('x1', 48).attr('x2', 70).attr('y1', 378).attr('y2', 378)
    .attr('stroke', '#ff0000').attr('stroke-width', 1.5);
  svg.append('text').attr('x', 76.7).attr('y', 378).attr('dy', '0.35em').attr('font-family', TICKF)
    .attr('font-size', 10).attr('fill', INK).text('Sigmoidal fit');
  title(181, 358, 'pDockQ');
  svg.append('text').attr('x', 181).attr('y', 675).attr('text-anchor', 'middle').attr('font-family', LABF)
    .attr('font-size', 10.4).attr('fill', INK).text('IF plDDT x log(IF contacts)');
  ylabel(9, 503, 'DockQ');
  panelLetter(11, 348, 'c');
}

// ---------- Panel d ----------
{
  const x = d3.scaleLinear([-0.05, 1.05], [415, 698.3]);
  const y = d3.scaleLinear([-0.05, 1.05], [637.4, 365]);
  styleAxis(svg.append('g').attr('transform', 'translate(0,637.4)')
    .call(d3.axisBottom(x).tickValues(unitTicks).tickFormat(fmt1).tickSize(3.5).tickSizeOuter(0).tickPadding(3.5)));
  styleAxis(svg.append('g').attr('transform', 'translate(415,0)')
    .call(d3.axisLeft(y).tickValues(unitTicks).tickFormat(fmt1).tickSize(3.5).tickSizeOuter(0).tickPadding(3.5)));
  const maxPts = dMaxBand.concat(dMaxOutliers);
  const minPts = dMinBand.concat(dMinScatter, dMinBottom);
  svg.append('g').selectAll('circle').data(maxPts).enter().append('circle')
    .attr('cx', d => x(d[0])).attr('cy', d => y(d[1])).attr('r', 1.45).attr('fill', '#1f77b4');
  svg.append('g').selectAll('circle').data(minPts).enter().append('circle')
    .attr('cx', d => x(d[0])).attr('cy', d => y(d[1])).attr('r', 1.45).attr('fill', '#3cb371');
  svg.append('line').attr('x1', x(0)).attr('y1', y(0)).attr('x2', x(1)).attr('y2', y(1))
    .attr('stroke', '#000').attr('stroke-width', 0.8).attr('stroke-dasharray', '2.6,1.2');
  svg.append('rect').attr('x', 420).attr('y', 369.3).attr('width', 57.7).attr('height', 33.4).attr('rx', 2)
    .attr('fill', 'rgba(255,255,255,0.85)').attr('stroke', '#d0d0d0').attr('stroke-width', 0.8);
  [['Max', '#1f77b4', 378.3], ['Min', '#3cb371', 392.7]].forEach(r => {
    svg.append('circle').attr('cx', 434).attr('cy', r[2]).attr('r', 1.45).attr('fill', r[1]);
    svg.append('text').attr('x', 452.7).attr('y', r[2]).attr('dy', '0.35em').attr('font-family', TICKF)
      .attr('font-size', 10).attr('fill', INK).text(r[0]);
  });
  title(555, 359, 'Model ranking on the test set');
  svg.append('text').attr('x', 555).attr('y', 675).attr('text-anchor', 'middle').attr('font-family', LABF)
    .attr('font-size', 10.4).attr('fill', INK).text('DockQ first ranked model');
  ylabel(380, 503, 'DockQ');
  panelLetter(375, 348, 'd');
}
</script>
</body></html>
